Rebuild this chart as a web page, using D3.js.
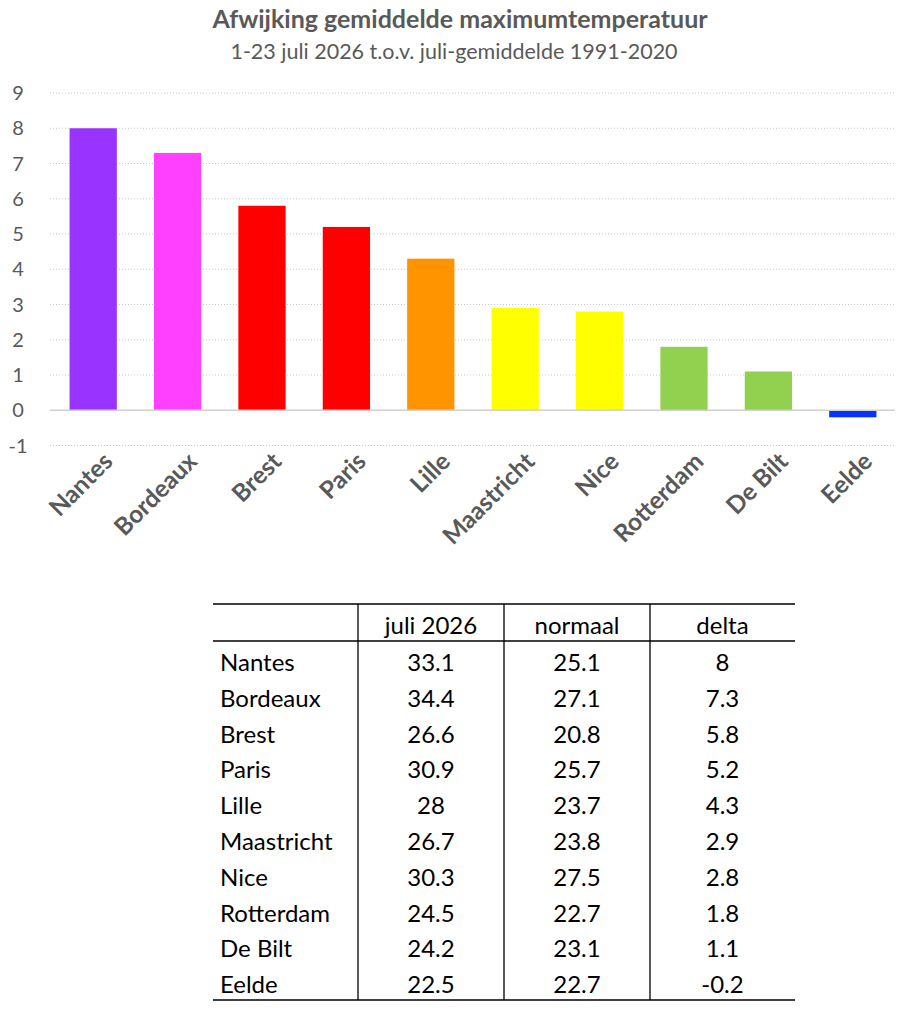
<!DOCTYPE html>
<html>
<head>
<meta charset="utf-8">
<script src="https://cdn.jsdelivr.net/npm/d3@7"></script>
<style>
  body { margin: 0; background: #fff; }
</style>
</head>
<body>
<script>
const cities = ['Nantes', 'Bordeaux', 'Brest', 'Paris', 'Lille', 'Maastricht', 'Nice', 'Rotterdam', 'De Bilt', 'Eelde']
const juli2026 = ['33.1', '34.4', '26.6', '30.9', '28', '26.7', '30.3', '24.5', '24.2', '22.5']
const normaal = ['25.1', '27.1', '20.8', '25.7', '23.7', '23.8', '27.5', '22.7', '23.1', '22.7']
const delta = [8, 7.3, 5.8, 5.2, 4.3, 2.9, 2.8, 1.8, 1.1, -0.2]
const barColors = ['#9933ff', '#ff40ff', '#ff0000', '#ff0000', '#ff9300', '#ffff00', '#ffff00', '#92d050', '#92d050', '#0433ff']
const yTicks = [-1, 0, 1, 2, 3, 4, 5, 6, 7, 8, 9]
const headers = ['', 'juli 2026', 'normaal', 'delta']

let svg = d3
  .select('body')
  .append('svg')
  .attr('width', 915)
  .attr('height', 1024)

// titles
svg.append('text')
  .attr('x', 460)
  .attr('y', 28)
  .attr('text-anchor', 'middle')
  .style('font-family', 'Lato, sans-serif')
  .style('font-weight', 'bold')
  .style('font-size', '25px')
  .style('fill', '#595959')
  .text('Afwijking gemiddelde maximumtemperatuur')

svg.append('text')
  .attr('x', 454)
  .attr('y', 59)
  .attr('text-anchor', 'middle')
  .style('font-family', 'Lato, sans-serif')
  .style('font-size', '21.5px')
  .style('fill', '#595959')
  .text('1-23 juli 2026 t.o.v. juli-gemiddelde 1991-2020')

// scales
let x = d3.scaleBand()
  .domain(cities)
  .range([51, 895])
  .paddingInner(0.44)
  .paddingOuter(0.22)

let y = d3.scaleLinear()
  .domain([-1, 9])
  .range([445.5, 93])

// gridlines
svg.append('g')
  .selectAll('line')
  .data(yTicks.filter(d => d !== 0))
  .join('line')
  .attr('x1', 50)
  .attr('x2', 895)
  .attr('y1', d => y(d))
  .attr('y2', d => y(d))
  .attr('stroke', '#c8c8c8')
  .attr('stroke-width', 1)
  .attr('stroke-dasharray', '1,2')

// y labels
svg.append('g')
  .selectAll('text')
  .data(yTicks)
  .join('text')
  .attr('x', 18)
  .attr('y', d => y(d) + 7)
  .attr('text-anchor', 'middle')
  .style('font-family', 'Lato, sans-serif')
  .style('font-size', '20px')
  .style('fill', '#595959')
  .text(d => d)

// bars
svg.append('g')
  .selectAll('rect')
  .data(delta)
  .join('rect')
  .attr('x', (d, i) => x(cities[i]))
  .attr('width', x.bandwidth())
  .attr('y', d => y(Math.max(0, d)))
  .attr('height', d => Math.abs(y(d) - y(0)))
  .attr('fill', (d, i) => barColors[i])

// zero line
svg.append('line')
  .attr('x1', 50)
  .attr('x2', 895)
  .attr('y1', y(0))
  .attr('y2', y(0))
  .attr('stroke', '#d0d0d0')
  .attr('stroke-width', 1.5)

// x labels
svg.append('g')
  .selectAll('text')
  .data(cities)
  .join('text')
  .attr('transform', d => `translate(${x(d) + x.bandwidth() / 2 + 21},${463}) rotate(-45)`)
  .attr('text-anchor', 'end')
  .style('font-family', 'Lato, sans-serif')
  .style('font-weight', 'bold')
  .style('font-size', '24.5px')
  .style('fill', '#595959')
  .text(d => d)

// table
let colEdges = [213, 358, 504, 650, 795]
let rowY = d3.scaleLinear().domain([0, 1]).range([662, 697.8])
let table = svg.append('g')
  .style('font-family', 'Lato, sans-serif')
  .style('font-size', '24px')
  .style('fill', '#000')

table.append('line').attr('x1', 213).attr('x2', 795).attr('y1', 604).attr('y2', 604)
  .attr('stroke', '#000').attr('stroke-width', 1.3)
table.append('line').attr('x1', 213).attr('x2', 795).attr('y1', 641).attr('y2', 641)
  .attr('stroke', '#000').attr('stroke-width', 1.3)
table.append('line').attr('x1', 213).attr('x2', 795).attr('y1', 1000).attr('y2', 1000)
  .attr('stroke', '#000').attr('stroke-width', 1.3)
table.selectAll('.vline')
  .data(colEdges.slice(1, 4))
  .join('line')
  .attr('class', 'vline')
  .attr('x1', d => d).attr('x2', d => d)
  .attr('y1', 604).attr('y2', 1000)
  .attr('stroke', '#000').attr('stroke-width', 1.3)

table.selectAll('.hdr')
  .data(headers)
  .join('text')
  .attr('class', 'hdr')
  .attr('x', (d, i) => (colEdges[i] + colEdges[i + 1]) / 2)
  .attr('y', 634)
  .attr('text-anchor', 'middle')
  .text(d => d)

let rows = cities.map((c, i) => [c, juli2026[i], normaal[i], String(delta[i])])
rows.forEach((r, i) => {
  table.append('text')
    .attr('x', 220)
    .attr('y', rowY(i) + 9)
    .text(r[0])
  for (let j = 1; j < 4; j++) {
    table.append('text')
      .attr('x', (colEdges[j] + colEdges[j + 1]) / 2)
      .attr('y', rowY(i) + 9)
      .attr('text-anchor', 'middle')
      .text(r[j])
  }
})
</script>
</body>
</html>
